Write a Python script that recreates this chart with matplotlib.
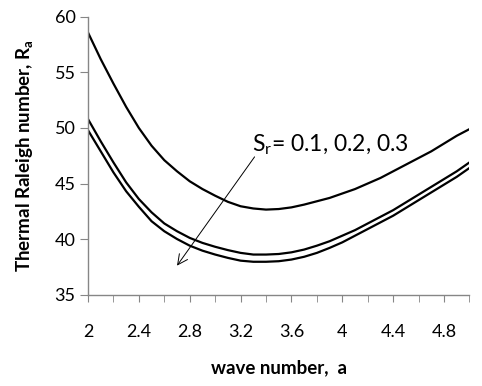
import numpy as np
import matplotlib
matplotlib.use("Agg")
import matplotlib.pyplot as plt
from matplotlib.ticker import MultipleLocator, FuncFormatter

plt.rcParams['font.family'] = ['Lato', 'DejaVu Sans']
plt.rcParams['mathtext.fontset'] = 'custom'
plt.rcParams['mathtext.rm'] = 'Lato'
plt.rcParams['mathtext.it'] = 'Lato:italic'
plt.rcParams['mathtext.bf'] = 'Lato:bold'

# wave number a
a = [2.0, 2.1, 2.2, 2.3, 2.4, 2.5, 2.6, 2.7, 2.8, 2.9, 3.0,
     3.1, 3.2, 3.3, 3.4, 3.5, 3.6, 3.7, 3.8, 3.9, 4.0,
     4.1, 4.2, 4.3, 4.4, 4.5, 4.6, 4.7, 4.8, 4.9, 5.0]

# Rayleigh number for Sr = 0.1, 0.2, 0.3
ra_01 = [58.6, 56.2, 54.0, 51.9, 50.0, 48.4, 47.1, 46.1, 45.2, 44.5, 43.9,
         43.35, 42.95, 42.75, 42.65, 42.7, 42.85, 43.1, 43.4, 43.7, 44.1,
         44.5, 45.0, 45.5, 46.1, 46.7, 47.3, 47.9, 48.6, 49.3, 49.9]
ra_02 = [50.8, 48.8, 46.9, 45.1, 43.6, 42.4, 41.4, 40.7, 40.1, 39.65, 39.3,
         39.0, 38.75, 38.6, 38.6, 38.65, 38.8, 39.05, 39.4, 39.8, 40.3,
         40.8, 41.4, 42.0, 42.6, 43.3, 44.0, 44.7, 45.4, 46.1, 46.9]
ra_03 = [49.8, 47.9, 46.0, 44.3, 42.9, 41.6, 40.7, 40.0, 39.4, 38.95, 38.6,
         38.3, 38.05, 37.95, 37.95, 38.0, 38.15, 38.4, 38.75, 39.2, 39.7,
         40.3, 40.9, 41.5, 42.1, 42.8, 43.5, 44.2, 44.9, 45.6, 46.4]

fig = plt.figure(figsize=(4.82, 3.86), dpi=100)
ax = fig.add_axes([0.1826, 0.237, 0.7914, 0.719])

for ra in (ra_01, ra_02, ra_03):
    ax.plot(a, ra, color='black', lw=1.6)

ax.set_xlim(2, 5)
ax.set_ylim(35, 60)
ax.xaxis.set_major_locator(MultipleLocator(0.4))
ax.xaxis.set_minor_locator(MultipleLocator(0.2))
ax.yaxis.set_major_locator(MultipleLocator(5))
ax.xaxis.set_major_formatter(FuncFormatter(lambda v, p: ('%.1f' % v).rstrip('0').rstrip('.')))

gray = '#868686'
for s in ('top', 'right'):
    ax.spines[s].set_visible(False)
for s in ('left', 'bottom'):
    ax.spines[s].set_color(gray)
    ax.spines[s].set_linewidth(1.0)
ax.tick_params(axis='x', which='both', direction='out', length=5, color=gray,
               labelsize=13, pad=16)
ax.tick_params(axis='y', direction='out', length=6, color=gray, labelsize=13, pad=3)

ax.set_xlabel('wave number,  a', fontsize=13.5, fontweight='bold', labelpad=14)
ax.set_ylabel(r'Thermal Raleigh number, R$_\mathbf{a}$', fontsize=13.5,
              fontweight='bold', labelpad=14)

ax.annotate('', xy=(2.70, 37.6), xytext=(3.31, 47.4),
            arrowprops=dict(arrowstyle='->', color='black', lw=0.7,
                            mutation_scale=18, shrinkA=0, shrinkB=0))
ax.text(3.29, 48.45, r'S$_\mathrm{r}$= 0.1, 0.2, 0.3', fontsize=16.5,
        ha='left', va='center')

fig.savefig('out.png', dpi=100)
